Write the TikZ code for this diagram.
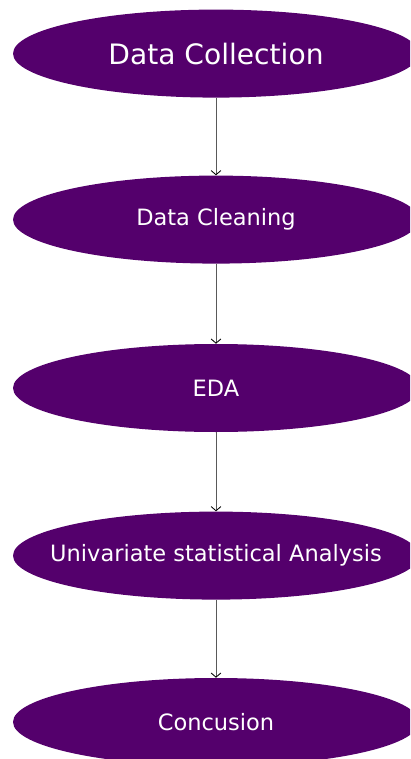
\documentclass[tikz,border=0pt]{standalone}
\usepackage{fontspec}
\usetikzlibrary{arrows.meta, shapes.geometric}
\newfontfamily\etapafont{DejaVu Sans}
\definecolor{morado}{RGB}{84,0,108}
\tikzset{
    etapa/.style={ellipse, fill=morado, text=white, minimum width=10.15cm, minimum height=2.2cm, inner sep=0pt, font=\etapafont\fontsize{16}{19}\selectfont},
    flecha/.style={draw=black!65, line width=0.7pt, -{Straight Barb[length=3pt, width=7pt, line width=0.6pt, color=black]}},
}

\begin{document}
\begin{tikzpicture}
\useasboundingbox (0,0) rectangle (10.25,-18.975);
\clip (0,0) rectangle (10.25,-18.975);

% Etapas del proceso
\node[etapa, font=\etapafont\fontsize{20}{24}\selectfont] (recoleccion) at (5.4,-1.34) {Data Collection};
\node[etapa] (limpieza) at (5.4,-5.49) {Data Cleaning};
\node[etapa] (eda) at (5.4,-9.7) {EDA};
\node[etapa] (univariado) at (5.4,-13.89) {\makebox[0pt]{Univariate statistical Analysis}};
\node[etapa] (conclusion) at (5.4,-18.05) {Concusion};

% Flechas entre etapas
\draw[flecha] (recoleccion) -- (limpieza);
\draw[flecha] (limpieza) -- (eda);
\draw[flecha] (eda) -- (univariado);
\draw[flecha] (univariado) -- (conclusion);
\end{tikzpicture}
\end{document}
